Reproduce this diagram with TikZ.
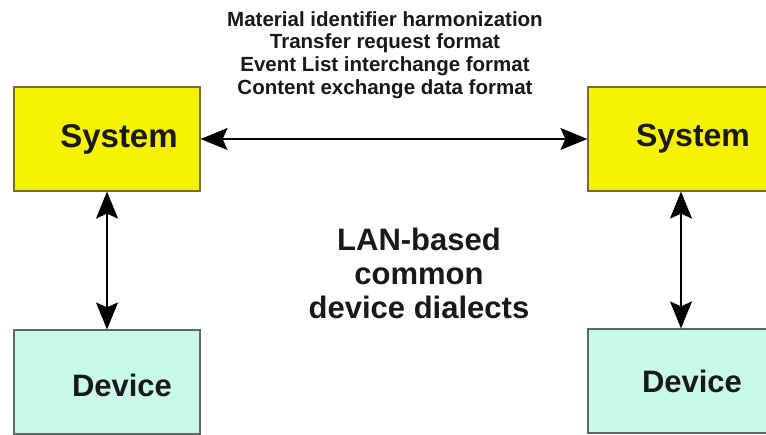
\documentclass[tikz,border=0pt]{standalone}
\usepackage{fontspec}
\setmainfont{Liberation Sans}
\usetikzlibrary{arrows.meta,positioning}
\definecolor{sysyellow}{RGB}{246,242,0}
\definecolor{sysedge}{RGB}{120,110,40}
\definecolor{devcyan}{RGB}{200,250,232}
\definecolor{devedge}{RGB}{90,105,100}
\begin{document}
\begin{tikzpicture}[x=1pt,y=-1pt,
    sysbox/.style={draw=sysedge,fill=sysyellow,line width=1.2pt,minimum width=186pt,minimum height=104pt,inner sep=0pt},
    devbox/.style={draw=devedge,fill=devcyan,line width=1.2pt,minimum width=186pt,minimum height=104pt,inner sep=0pt},
    boxtext/.style={font=\fontsize{33}{36}\selectfont\bfseries,text=black!90},
    link/.style={line width=1.3pt,{Stealth[length=27pt,width=22pt,inset=5pt]}-{Stealth[length=27pt,width=22pt,inset=5pt]}}]
    \clip (0,0) rectangle (766,435);
    \fill[white] (0,0) rectangle (766,435);

    % the four boxes
    \node[sysbox] (sysL) at (107,139) {};
    \node[sysbox] (sysR) at (681,139) {};
    \node[devbox] (devL) at (107,382) {};
    \node[devbox] (devR) at (681,381) {};
    \node[boxtext] (sysLtext) at ([xshift=12pt]sysL.center) {System};
    \node[boxtext,font=\fontsize{32}{36}\selectfont\bfseries] (sysRtext) at ([xshift=12pt]sysR.center) {System};
    \node[boxtext,font=\fontsize{31}{36}\selectfont\bfseries] (devLtext) at ([xshift=15pt,yshift=-3pt]devL.center) {Device};
    \node[boxtext,font=\fontsize{31}{36}\selectfont\bfseries] (devRtext) at ([xshift=11pt]devR.center) {Device};

    \draw[link] (sysL.east) -- (sysR.west);
    \draw[link] (sysL.south) -- (devL.north);
    \draw[link] (sysR.south) -- (devR.north);

    \node[font=\fontsize{20.5}{22.7}\selectfont\bfseries,align=center,text=black!90] (formats) at (385,55)
        {Material identifier harmonization\\Transfer request format\\Event List interchange format\\Content exchange data format};
    \node[font=\fontsize{31}{34}\selectfont\bfseries,align=center,text=black!90] (dialects) at (419,273)
        {LAN-based\\common\\device dialects};
\end{tikzpicture}
\end{document}
